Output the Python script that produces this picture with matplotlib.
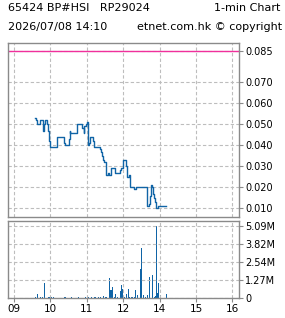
import numpy as np
import matplotlib.pyplot as plt

price_times = ["09:34", "09:37", "09:38", "09:43", "09:47", "09:48", "09:49", "09:51",
               "09:55", "09:56", "09:57", "09:58", "10:00", "10:10", "10:11", "10:22",
               "10:24", "10:30", "10:32", "10:33", "10:44", "10:52", "10:55", "10:56",
               "10:58", "11:01", "11:02", "11:03", "11:06", "11:11", "11:12", "11:22",
               "11:24", "11:25", "11:27", "11:28", "11:31", "11:32", "11:35", "11:37",
               "11:40", "11:47", "11:55", "11:57", "11:59", "13:04", "13:06", "13:07",
               "13:09", "13:11", "13:17", "13:21", "13:40", "13:42", "13:44", "13:46",
               "13:48", "13:49", "13:51", "13:53", "13:54", "13:58", "14:10"]
price_values = [0.053, 0.052, 0.050, 0.052, 0.049, 0.047, 0.050, 0.052,
                0.050, 0.047, 0.043, 0.042, 0.039, 0.041, 0.044, 0.041,
                0.040, 0.043, 0.047, 0.046, 0.050, 0.048, 0.046, 0.049,
                0.050, 0.051, 0.040, 0.041, 0.044, 0.042, 0.039, 0.038,
                0.037, 0.035, 0.033, 0.032, 0.028, 0.026, 0.027, 0.026,
                0.029, 0.027, 0.028, 0.029, 0.033, 0.030, 0.027, 0.025,
                0.026, 0.020, 0.019, 0.020, 0.011, 0.012, 0.016, 0.021,
                0.020, 0.017, 0.015, 0.013, 0.010, 0.011, 0.011]

vol_times = ["09:36", "09:38", "09:43", "09:47", "09:51", "09:56", "09:58", "10:00",
             "10:01", "10:05", "10:24", "10:34", "10:46", "10:58", "11:02", "11:07",
             "11:12", "11:14", "11:19", "11:22", "11:27", "11:31", "11:33", "11:37",
             "11:39", "11:40", "11:42", "11:45", "11:48", "11:51", "11:55", "11:57",
             "11:59", "13:02", "13:05", "13:08", "13:10", "13:14", "13:16", "13:18",
             "13:20", "13:23", "13:28", "13:30", "13:33", "13:36", "13:40", "13:43",
             "13:44", "13:48", "13:51", "13:53", "13:55", "13:57", "13:58", "14:01",
             "14:11"]
vol_values = [0.05, 0.30, 0.05, 0.05, 1.06, 0.05, 0.08, 0.10,
              0.10, 0.05, 0.04, 0.04, 0.04, 0.04, 0.04, 0.04,
              0.05, 0.05, 0.05, 0.04, 0.14, 0.05, 0.05, 1.41,
              0.54, 0.58, 0.77, 0.05, 0.28, 0.05, 0.49, 0.92,
              0.63, 0.05, 0.28, 0.63, 0.10, 0.05, 0.05, 0.05,
              0.56, 0.20, 2.04, 3.54, 0.20, 0.05, 0.20, 1.50,
              0.05, 1.62, 0.05, 0.14, 5.09, 0.37, 1.08, 0.20,
              0.28]

hour_labels = ["09", "10", "11", "12", "14", "15", "16"]
hour_ticks = [0, 60, 120, 180, 240, 300, 360]
price_ticks = [0.010, 0.020, 0.030, 0.040, 0.050, 0.060, 0.070, 0.085]
limit_price = 0.085


def session_min(t):
    # minutes of trading since 09:00, lunch hour 12-13 removed
    h, m = map(int, t.split(":"))
    mins = h * 60 + m - 9 * 60
    if h >= 13:
        mins -= 60
    return mins


px = np.array([session_min(t) for t in price_times])
vx = np.array([session_min(t) for t in vol_times])

frame = "#8a8a8a"
gridc = "#bdbdbd"
blue = "#1064a6"
plt.rcParams["font.family"] = ["DejaVu Sans"]
plt.rcParams["font.size"] = 7

fig = plt.figure(figsize=(2.85, 3.18), dpi=100)
ax = fig.add_axes([8 / 285, 101 / 318, 231 / 285, 174 / 318])
axv = fig.add_axes([8 / 285, 20 / 318, 231 / 285, 77 / 318])

for a in (ax, axv):
    a.set_xlim(-10, 371)
    a.set_xticks(hour_ticks)
    for s in a.spines.values():
        s.set_color(frame)
        s.set_linewidth(1.0)
    a.grid(True, color=gridc, linestyle=(0, (3, 2)), linewidth=0.8)
    a.yaxis.tick_right()
    a.tick_params(axis="y", direction="out", length=3, width=0.8, color=frame, pad=1.5)
    a.tick_params(axis="x", direction="out", length=3, width=0.8, color=frame, pad=1.5,
                  labelsize=7.5)

ax.step(px, price_values, where="post", color=blue, linewidth=1.0)
ax.axhline(limit_price, color="#f0309c", linewidth=1.0)
ax.set_ylim(0.00586, 0.0887)
ax.set_yticks(price_ticks)
ax.set_yticklabels(["%.3f" % v for v in price_ticks])
ax.tick_params(axis="x", labelbottom=False, length=0)

axv.bar(vx, vol_values, width=1.7, color=blue, linewidth=0, align="center",
        antialiased=False)
vmax = max(vol_values)
vt = [vmax * k / 4 for k in range(5)]
axv.set_ylim(0, vmax * 77 / 72.3)
axv.set_yticks(vt)
axv.set_yticklabels(["0"] + ["%.2fM" % v for v in vt[1:]])
axv.set_xticklabels(hour_labels)

fig.text(8 / 285, 1 - 8 / 318, "65424 BP#HSI   RP29024", ha="left", va="center", fontsize=8)
fig.text(280 / 285, 1 - 8 / 318, "1-min Chart", ha="right", va="center", fontsize=8)
fig.text(8 / 285, 1 - 27 / 318, "2026/07/08 14:10", ha="left", va="center", fontsize=8)
fig.text(282 / 285, 1 - 27 / 318, "etnet.com.hk \u00a9 copyright", ha="right", va="center",
         fontsize=8)

fig.savefig("out.png", dpi=100)
